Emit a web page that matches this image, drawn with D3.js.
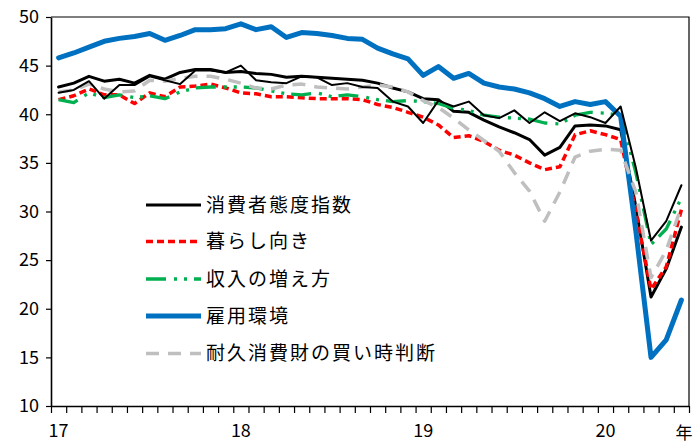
<!DOCTYPE html>
<html>
<head>
<meta charset="utf-8">
<script src="https://cdn.jsdelivr.net/npm/d3@7"></script>
<style>
  html, body { margin: 0; padding: 0; background: #fff; }
  svg { display: block; }
  text { font-family: "Noto Sans CJK JP", "Noto Sans", sans-serif; fill: #000; }
</style>
</head>
<body>
<svg id="chart" width="696" height="444"></svg>
<script>
// Months Jan 2017 – Jun 2020
const months = [
  "17-01","17-02","17-03","17-04","17-05","17-06","17-07","17-08","17-09","17-10","17-11","17-12",
  "18-01","18-02","18-03","18-04","18-05","18-06","18-07","18-08","18-09","18-10","18-11","18-12",
  "19-01","19-02","19-03","19-04","19-05","19-06","19-07","19-08","19-09","19-10","19-11","19-12",
  "20-01","20-02","20-03","20-04","20-05","20-06"
];
const yearLabels = ["17", "18", "19", "20"];
const yearStartMonths = ["17-01", "18-01", "19-01", "20-01"];
const yTicks = [10, 15, 20, 25, 30, 35, 40, 45, 50];

// 消費者態度指数
const consumerIndex = [
  42.8,43.2,43.9,43.4,43.6,43.2,44.0,43.6,44.3,44.6,44.6,44.3,
  44.4,44.2,44.1,43.8,43.9,43.8,43.7,43.6,43.5,43.2,42.7,42.3,
  41.6,41.5,40.3,40.2,39.4,38.7,38.1,37.4,35.8,36.6,38.8,38.9,
  38.8,38.4,30.5,21.2,24.1,28.4
];
// 消費者態度指数 (thin companion line)
const consumerIndexAlt = [
  42.2,42.5,43.4,41.6,43.0,43.0,43.9,43.5,43.1,44.5,44.5,44.3,
  45.0,43.5,43.3,43.2,43.9,43.8,43.0,43.2,42.8,42.7,41.3,40.8,
  39.1,41.4,40.8,41.3,39.9,39.6,40.4,39.1,40.2,39.3,40.1,39.7,
  39.1,40.8,34.5,27.0,29.0,32.7
];
// 暮らし向き
const livelihood = [
  41.5,41.9,42.6,42.0,42.0,41.1,42.2,41.8,42.8,42.9,43.1,42.7,
  42.2,42.1,41.8,41.8,41.7,41.6,41.6,41.6,41.5,41.0,40.7,40.2,
  39.7,38.9,37.6,37.8,37.2,36.3,35.8,35.0,34.3,34.6,37.9,38.3,
  37.9,37.4,30.0,22.0,24.3,30.2
];
// 収入の増え方
const incomeGrowth = [
  41.5,41.2,42.2,41.7,42.0,41.7,41.9,41.6,42.3,42.7,42.8,42.8,
  42.8,42.7,42.4,42.1,42.0,42.2,41.8,42.0,41.8,41.5,41.3,41.4,
  41.3,41.1,40.6,40.4,39.9,39.7,39.6,39.5,39.1,39.0,39.9,40.2,
  40.1,39.9,34.0,26.6,28.2,31.4
];
// 雇用環境
const employment = [
  45.8,46.3,46.9,47.5,47.8,48.0,48.3,47.6,48.1,48.7,48.7,48.8,
  49.3,48.7,49.0,47.9,48.4,48.3,48.1,47.8,47.7,46.8,46.2,45.7,
  44.0,44.9,43.7,44.2,43.2,42.8,42.6,42.2,41.6,40.8,41.3,41.0,
  41.3,39.8,28.0,15.0,16.8,20.9
];
// 耐久消費財の買い時判断
const durables = [
  42.3,42.5,43.1,42.6,42.3,42.4,43.5,43.4,43.7,43.9,43.9,43.6,
  43.2,42.7,42.6,43.0,43.1,42.8,42.7,42.6,42.8,43.0,42.8,42.3,
  41.4,40.7,39.6,38.4,37.3,36.2,34.0,32.1,29.0,32.0,35.6,36.2,
  36.4,36.3,32.0,23.2,26.0,30.5
];

const seriesList = [
  { name: "消費者態度指数", values: consumerIndex, color: "#000000", width: 3, dash: null, legend: true },
  { name: "暮らし向き", values: livelihood, color: "#FF0000", width: 3.5, dash: "7,4", legend: true },
  { name: "収入の増え方", values: incomeGrowth, color: "#00B050", width: 3.3, dash: "20,8,3,7,3,7", legend: true },
  { name: "雇用環境", values: employment, color: "#0070C0", width: 5, dash: null, legend: true },
  { name: "耐久消費財の買い時判断", values: durables, color: "#BFBFBF", width: 3.5, dash: "13,9", legend: true },
  { name: "消費者態度指数（細線）", values: consumerIndexAlt, color: "#000000", width: 2, dash: null, legend: false }
];

const svg = d3.select("#chart");
const plotLeft = 51, plotRight = 689, plotTop = 17, plotBottom = 406;

// band-like month scale: month i occupies [i, i+1]
const x = d3.scaleLinear().domain([0, months.length]).range([plotLeft, plotRight]);
const monthIndex = new Map(months.map((m, i) => [m, i]));
const xm = m => x(monthIndex.get(m) + 0.5);
const y = d3.scaleLinear().domain([10, 50]).range([plotBottom, plotTop]);

svg.append("rect").attr("width", 696).attr("height", 444).attr("fill", "#fff");

// plot frame (top and right edges)
svg.append("path")
  .attr("d", `M${plotLeft},${plotTop}H${plotRight}V${plotBottom}`)
  .attr("fill", "none").attr("stroke", "#000").attr("stroke-width", 1.2);

// y axis
const yAxis = svg.append("g")
  .attr("transform", `translate(${plotLeft},0)`)
  .call(d3.axisLeft(y).tickValues(yTicks).tickSize(5).tickSizeOuter(0).tickPadding(7));
yAxis.select(".domain").attr("stroke", "#000").attr("stroke-width", 1.6);
yAxis.selectAll(".tick line").attr("stroke", "#000").attr("stroke-width", 1.2);
yAxis.selectAll(".tick text")
  .attr("font-size", 18).attr("font-family", "'Noto Sans CJK JP', sans-serif").attr("fill", "#000");

// x axis: ticks at month boundaries
const xAxis = svg.append("g")
  .attr("transform", `translate(0,${plotBottom})`)
  .call(d3.axisBottom(x).tickValues(d3.range(0, months.length + 1)).tickSize(7).tickSizeOuter(0).tickFormat(""));
xAxis.select(".domain").attr("stroke", "#000").attr("stroke-width", 1.6);
xAxis.selectAll(".tick line").attr("stroke", "#000").attr("stroke-width", 1.2);

// year labels under January of each year
svg.append("g").selectAll("text")
  .data(yearLabels)
  .join("text")
  .attr("x", (d, i) => xm(yearStartMonths[i]))
  .attr("y", 437)
  .attr("text-anchor", "middle")
  .attr("font-size", 18)
  .text(d => d);

svg.append("text")
  .attr("x", 684).attr("y", 439)
  .attr("text-anchor", "middle")
  .attr("font-size", 17)
  .text("年");

// series lines
const line = d3.line()
  .x((d, i) => xm(months[i]))
  .y(d => y(d))
  .curve(d3.curveLinear);

svg.append("g").selectAll("path")
  .data(seriesList)
  .join("path")
  .attr("d", s => line(s.values))
  .attr("fill", "none")
  .attr("stroke", s => s.color)
  .attr("stroke-width", s => s.width)
  .attr("stroke-dasharray", s => s.dash)
  .attr("stroke-linejoin", "round")
  .attr("stroke-linecap", s => s.dash ? "butt" : "round");

// legend
const legendItems = seriesList.filter(s => s.legend);
const legendRows = [205, 241.5, 279, 316, 353.5];
const lg = svg.append("g");
legendItems.forEach((s, i) => {
  const yy = legendRows[i];
  lg.append("line")
    .attr("x1", 146).attr("x2", 201)
    .attr("y1", yy).attr("y2", yy)
    .attr("stroke", s.color)
    .attr("stroke-width", s.width)
    .attr("stroke-dasharray", s.dash);
  lg.append("text")
    .attr("x", 206).attr("y", yy)
    .attr("dy", "0.36em")
    .attr("font-size", 19)
    .attr("letter-spacing", "2px")
    .text(s.name);
});
</script>
</body>
</html>
